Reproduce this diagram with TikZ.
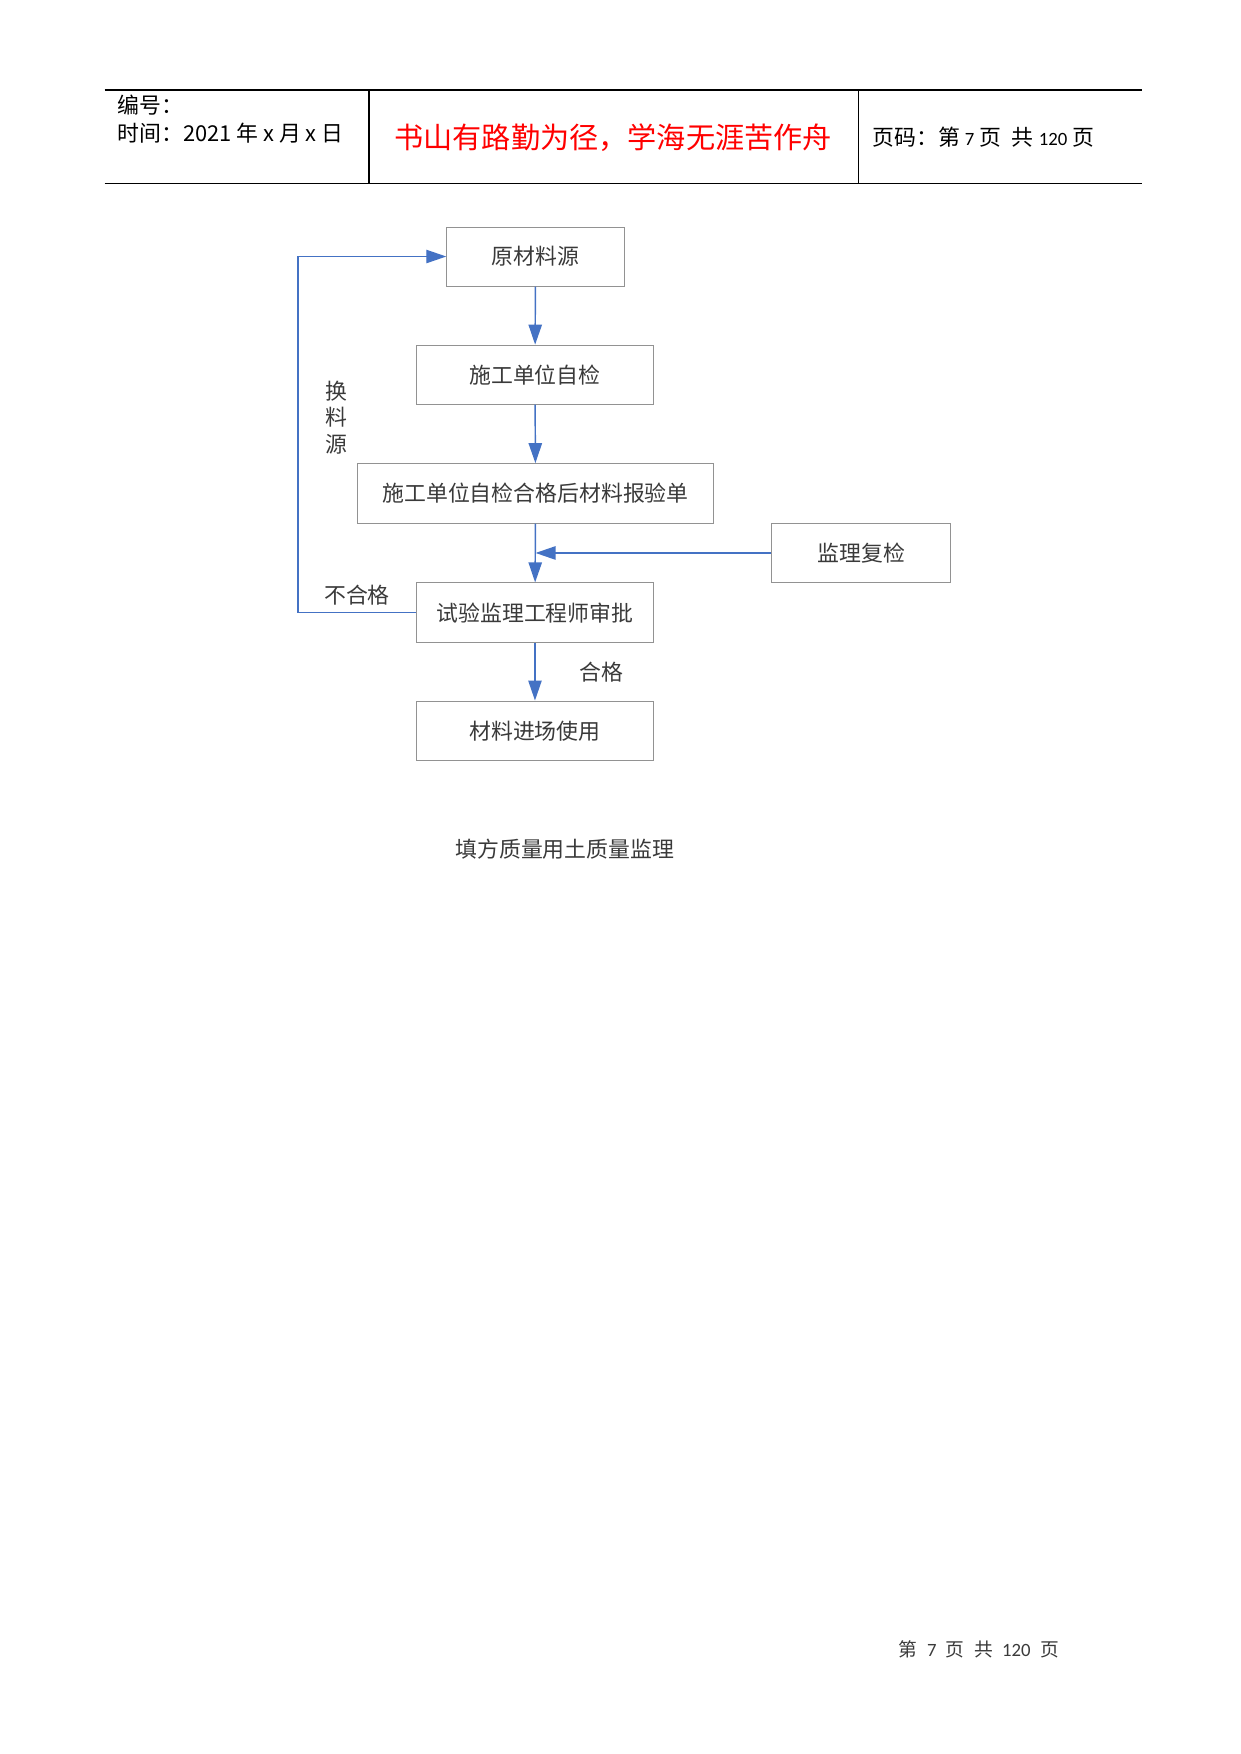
\documentclass[tikz,border=0pt]{standalone}
\usepackage{fontspec}
\usepackage{tikz}
\usetikzlibrary{arrows.meta, positioning}
\setmainfont{Noto Sans CJK SC}
\newfontfamily\cjk{Noto Sans CJK SC}
\newfontfamily\latinfont{Carlito}
\definecolor{flowBlue}{HTML}{4472C4}
\definecolor{boxGray}{HTML}{929292}
\definecolor{textGray}{HTML}{3A3A3A}
\tikzset{
    flowBox/.style={rectangle, draw=boxGray, thin, fill=white, minimum height=28.4pt, inner sep=0pt, text=textGray, font=\cjk\fontsize{10.5}{12}\selectfont},
    flowEdge/.style={-{Triangle[length=9.6pt, width=6.4pt]}, draw=flowBlue, line width=0.7pt},
    flowNote/.style={text=textGray, font=\cjk\fontsize{10.5}{12.7}\selectfont, inner sep=1pt},
    headRule/.style={draw=black, line width=0.6pt},
}
\begin{document}
\begin{tikzpicture}[x=0.54pt, y=-0.54pt]
    \useasboundingbox (0, 0) rectangle (1103, 1559);

    % header table
    \coordinate (hTL) at (93, 80);
    \coordinate (hTR) at (1015, 80);
    \coordinate (hBL) at (93, 163);
    \coordinate (hBR) at (1015, 163);
    \draw[headRule] (hTL) -- (hTR);
    \draw[headRule] (hBL) -- (hBR);
    \draw[headRule, line width=1.1pt] (328, 80) -- (328, 163);
    \draw[headRule] (763, 80) -- (763, 163);
    \node[anchor=west, inner sep=0pt, font=\fontsize{10.5}{12}\selectfont] (serial) at (104, 93) {编号：};
    \node[anchor=west, inner sep=0pt, font=\fontsize{10.5}{12}\selectfont] (date) at (104, 118) {时间：2021 年 x 月 x 日};
    \node[inner sep=0pt, text=red, font=\fontsize{14}{16}\selectfont] (motto) at (545, 122) {书山有路勤为径，学海无涯苦作舟};
    \node[anchor=west, inner sep=0pt, font=\fontsize{10.5}{12}\selectfont] (pageno) at (775, 122) {页码：第 {\latinfont\fontsize{9}{10}\selectfont 7} 页\enspace 共 {\latinfont\fontsize{9}{10}\selectfont 120} 页};

    % flow boxes
    \node[flowBox, minimum width=85.3pt] (source) at (476, 228) {原材料源};
    \node[flowBox, minimum width=113.9pt] (selfCheck) at (475.5, 333) {施工单位自检};
    \node[flowBox, minimum width=170.6pt, minimum height=28.6pt] (report) at (476, 438.5) {施工单位自检合格后材料报验单};
    \node[flowBox, minimum width=85.9pt, minimum height=28.6pt] (recheck) at (765.5, 491.5) {监理复检};
    \node[flowBox, minimum width=113.9pt, minimum height=28.6pt] (approve) at (475.5, 544.5) {试验监理工程师审批};
    \node[flowBox, minimum width=113.9pt, minimum height=28.6pt] (useSite) at (475.5, 649.5) {材料进场使用};

    % connectors
    \draw[flowEdge] (source) -- (selfCheck);
    \draw[flowEdge] (selfCheck) -- (report);
    \draw[flowEdge] (report) -- (approve);
    \coordinate (joint) at (report.south |- recheck.west);
    \draw[flowEdge] (recheck.west) -- (joint);
    \draw[flowEdge] (approve) -- node[flowNote, midway, right=20pt] (passLabel) {合格} (useSite);
    \coordinate (loopCorner) at (265, 544.5);
    \draw[flowEdge] (approve.west) -- node[flowNote, midway, above=2pt] (failLabel) {不合格} (loopCorner) |- (source.west);
    \node[flowNote, align=center] (swapLabel) at (299, 371) {换\\料\\源};

    % caption and footer
    \node[flowNote] (caption) at (502, 755) {填方质量用土质量监理};
    \node[inner sep=0pt, text=textGray, font=\fontsize{9}{10}\selectfont] (footer) at (870, 1466) {第\enspace{\latinfont 7}\enspace 页\enspace 共\enspace{\latinfont 120}\enspace 页};
\end{tikzpicture}
\end{document}
